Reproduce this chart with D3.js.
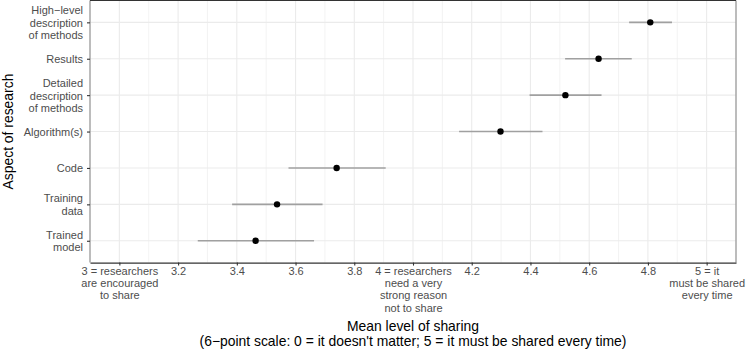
<!DOCTYPE html>
<html>
<head>
<meta charset="utf-8">
<script src="https://cdn.jsdelivr.net/npm/d3@7"></script>
<style>
  body { margin: 0; background: #fff; }
  svg text { font-family: "Liberation Sans", Arial, sans-serif; }
</style>
</head>
<body>
<svg id="chart" width="747" height="349"></svg>
<script>
// aspects of research, top to bottom
var categories = ["High\u2212level\ndescription\nof methods", "Results", "Detailed\ndescription\nof methods",
  "Algorithm(s)", "Code", "Training\ndata", "Trained\nmodel"];
var means = [4.808, 4.632, 4.519, 4.298, 3.740, 3.537, 3.464];
var lower = [4.736, 4.518, 4.397, 4.157, 3.576, 3.384, 3.267];
var upper = [4.882, 4.745, 4.642, 4.441, 3.907, 3.692, 3.663];
var xTicks = [3, 3.2, 3.4, 3.6, 3.8, 4, 4.2, 4.4, 4.6, 4.8, 5];
var xTickLabels = ["3 = researchers\nare encouraged\nto share", "3.2", "3.4", "3.6", "3.8",
  "4 = researchers\nneed a very\nstrong reason\nnot to share", "4.2", "4.4", "4.6", "4.8",
  "5 = it\nmust be shared\nevery time"];
var minorTicks = [2.9, 3.1, 3.3, 3.5, 3.7, 3.9, 4.1, 4.3, 4.5, 4.7, 4.9, 5.1];

var data = categories.map(function(c, i) {
  return { cat: c, mean: means[i], lo: lower[i], hi: upper[i] };
});

var L = 90, R = 736, T = 0.5, B = 262.6;
var svg = d3.select("#chart");

var x = d3.scaleLinear().domain([2.9, 5.1]).range([L, R]);
var y = d3.scalePoint().domain(categories).range([T, B]).padding(0.6);

// grid
var grid = svg.append("g");
grid.selectAll("line.minor").data(minorTicks).enter().append("line")
  .attr("x1", function(d) { return x(d); }).attr("x2", function(d) { return x(d); })
  .attr("y1", T).attr("y2", B)
  .attr("stroke", "#ebebeb").attr("stroke-width", 0.6);
grid.selectAll("line.vmaj").data(xTicks).enter().append("line")
  .attr("x1", function(d) { return x(d); }).attr("x2", function(d) { return x(d); })
  .attr("y1", T).attr("y2", B)
  .attr("stroke", "#ebebeb").attr("stroke-width", 1.1);
grid.selectAll("line.hmaj").data(categories).enter().append("line")
  .attr("x1", L).attr("x2", R)
  .attr("y1", function(d) { return y(d); }).attr("y2", function(d) { return y(d); })
  .attr("stroke", "#ebebeb").attr("stroke-width", 1.1);

// error bars and points
svg.selectAll("line.err").data(data).enter().append("line")
  .attr("x1", function(d) { return x(d.lo); }).attr("x2", function(d) { return x(d.hi); })
  .attr("y1", function(d) { return y(d.cat); }).attr("y2", function(d) { return y(d.cat); })
  .attr("stroke", "#a0a0a0").attr("stroke-width", 1.6);
svg.selectAll("circle").data(data).enter().append("circle")
  .attr("cx", function(d) { return x(d.mean); })
  .attr("cy", function(d) { return y(d.cat); })
  .attr("r", 3.2).attr("fill", "#000");

// panel border
svg.append("line").attr("x1", L).attr("x2", L).attr("y1", T).attr("y2", B).attr("stroke", "#8a8a8a").attr("stroke-width", 1.1);
svg.append("line").attr("x1", R).attr("x2", R).attr("y1", T).attr("y2", B).attr("stroke", "#8a8a8a").attr("stroke-width", 1.1);
svg.append("line").attr("x1", L).attr("x2", R).attr("y1", T).attr("y2", T).attr("stroke", "#333").attr("stroke-width", 1.1);

// x axis
var xAxis = svg.append("g").attr("transform", "translate(0," + B + ")")
  .call(d3.axisBottom(x).tickValues(xTicks).tickSize(3).tickSizeOuter(0).tickPadding(3)
    .tickFormat(function(d, i) { return xTickLabels[i]; }));
xAxis.select(".domain").attr("stroke", "#333").attr("stroke-width", 1.1);
xAxis.selectAll(".tick line").attr("stroke", "#333").attr("stroke-width", 1.1);
xAxis.selectAll(".tick text").each(function(d, i) {
  var t = d3.select(this), lines = xTickLabels[i].split("\n");
  t.text(null).attr("fill", "#4d4d4d").attr("font-size", 11).attr("dy", null).attr("y", 12);
  lines.forEach(function(s, j) {
    t.append("tspan").attr("x", 0).attr("dy", j === 0 ? "0.0em" : "1.13em").text(s);
  });
});

// y axis
var yAxis = svg.append("g").attr("transform", "translate(" + L + ",0)")
  .call(d3.axisLeft(y).tickSize(3).tickSizeOuter(0).tickPadding(3));
yAxis.select(".domain").remove();
yAxis.selectAll(".tick line").attr("stroke", "#333").attr("stroke-width", 1.1);
yAxis.selectAll(".tick text").each(function(d) {
  var t = d3.select(this), lines = d.split("\n");
  t.text(null).attr("fill", "#4d4d4d").attr("font-size", 11).attr("dy", null);
  var off = -(lines.length - 1) / 2 * 1.13;
  lines.forEach(function(s, j) {
    t.append("tspan").attr("x", -7).attr("dy", j === 0 ? (off + 0.35) + "em" : "1.13em").text(s);
  });
});

// titles
svg.append("text").attr("x", (L + R) / 2).attr("y", 330.5).attr("text-anchor", "middle")
  .attr("font-size", 13.9).attr("fill", "#000").text("Mean level of sharing");
svg.append("text").attr("x", (L + R) / 2).attr("y", 345.5).attr("text-anchor", "middle")
  .attr("font-size", 13.9).attr("fill", "#000")
  .text("(6\u2212point scale: 0 = it doesn't matter; 5 = it must be shared every time)");
svg.append("text").attr("transform", "translate(13," + ((T + B) / 2) + ") rotate(-90)")
  .attr("text-anchor", "middle").attr("font-size", 13.9).attr("fill", "#000")
  .text("Aspect of research");
</script>
</body>
</html>
